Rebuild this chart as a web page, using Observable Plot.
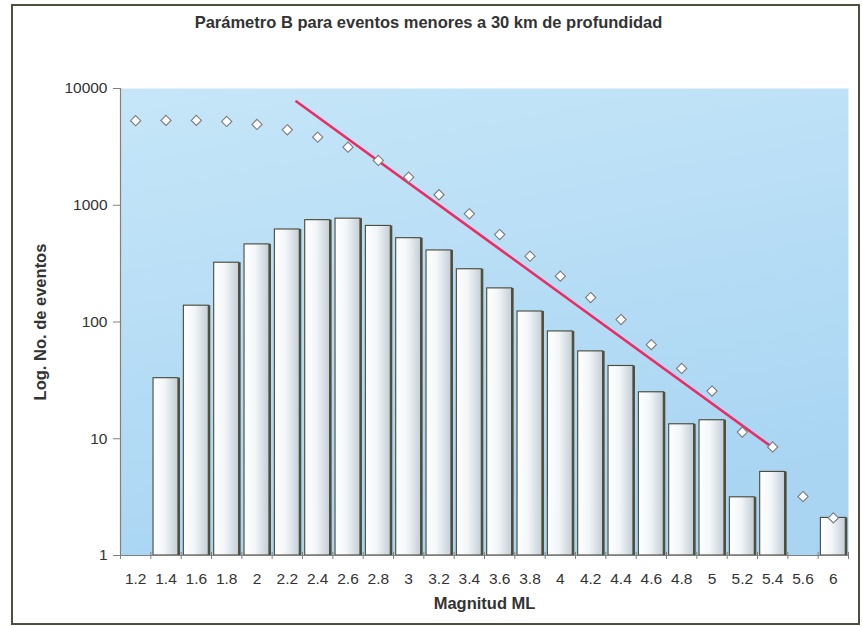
<!DOCTYPE html>
<html>
<head>
<meta charset="utf-8">
<script src="https://cdn.jsdelivr.net/npm/d3@7"></script>
<script src="https://cdn.jsdelivr.net/npm/@observablehq/plot@0.6"></script>
<style>
  html, body { margin: 0; padding: 0; background: #ffffff; }
  #wrap { position: relative; width: 862px; height: 626px; }
  #border { position: absolute; left: 11px; top: 4px; width: 845px; height: 617px;
            border: 2px solid #4f4f3d; pointer-events: none; }
  svg { display: block; }
</style>
</head>
<body>
<div id="wrap"><div id="border"></div></div>
<script>
// Magnitude classes (ML) shown on the category axis
const mags = ["1.2","1.4","1.6","1.8","2","2.2","2.4","2.6","2.8","3","3.2","3.4",
              "3.6","3.8","4","4.2","4.4","4.6","4.8","5","5.2","5.4","5.6","6"];
// Number of events per magnitude class (null = no events)
const events = [null, 33, 138, 322, 462, 620, 745, 768, 665, 522, 410, 283,
                194, 123, 83, 56, 42, 25, 13.3, 14.4, 3.15, 5.2, null, 2.1];
// Cumulative number of events with magnitude >= class
const cumulative = [5300, 5330, 5330, 5220, 4920, 4430, 3830, 3140, 2420, 1740, 1230, 845,
                    561, 366, 247, 162, 105, 64, 40, 25.6, 11.4, 8.5, 3.2, 2.1];
// Gutenberg–Richter fit segment (magnitude, count)
const fitMag = [2.26, 5.4];
const fitN = [7740, 8.4];
const yTicks = [1, 10, 100, 1000, 10000];

const rows = mags.map((m, i) => ({i, mag: m, events: events[i], cum: cumulative[i]}));
const bars = rows.filter(d => d.events != null);
// Magnitude -> position along the category axis (steps of 0.2 from 1.2)
const magToIndex = m => (m - 1.2) / 0.2;
const fit = fitMag.map((m, k) => ({x: magToIndex(m), n: fitN[k]}));
// Category boundaries for the tick marks between classes
const bounds = d3.range(mags.length + 1).map(k => k - 0.5);

const font = "'Liberation Sans', Arial, sans-serif";
const ink = "#333333";
const axisGray = "#808080";

const defs = () => {
  const g = d3.create("svg:defs");
  const bg = g.append("linearGradient").attr("id", "bgGrad")
    .attr("x1", 0).attr("y1", 0).attr("x2", 0.3).attr("y2", 1);
  bg.append("stop").attr("offset", 0).attr("stop-color", "#c6e6f8");
  bg.append("stop").attr("offset", 1).attr("stop-color", "#a9d5f3");
  const bar = g.append("linearGradient").attr("id", "barGrad")
    .attr("x1", 0).attr("y1", 0).attr("x2", 1).attr("y2", 0);
  bar.append("stop").attr("offset", 0).attr("stop-color", "#ffffff");
  bar.append("stop").attr("offset", 0.45).attr("stop-color", "#f3f6f8");
  bar.append("stop").attr("offset", 1).attr("stop-color", "#c3ced7");
  return g.node();
};

const chart = Plot.plot({
  width: 862,
  height: 626,
  marginLeft: 120,
  marginRight: 14,
  marginTop: 88,
  marginBottom: 71,
  style: {fontFamily: font, fontSize: "15px", color: ink, background: "transparent"},
  x: {domain: [-0.5, mags.length - 0.5], axis: null, label: null},
  y: {type: "log", domain: [1, 10000], axis: null, label: null},
  marks: [
    defs,
    Plot.frame({fill: "url(#bgGrad)", stroke: null}),
    // bar shadow
    Plot.rectY(bars, {x1: d => d.i - 0.5, x2: d => d.i + 0.5, y1: 1, y2: "events",
      insetLeft: 2.7, insetRight: 2.7, dx: 2, fill: "#4f4f3b"}),
    Plot.rectY(bars, {x1: d => d.i - 0.5, x2: d => d.i + 0.5, y1: 1, y2: "events",
      insetLeft: 2.7, insetRight: 2.7, fill: "url(#barGrad)", stroke: "#4a4a38", strokeWidth: 1.1}),
    // axis lines
    Plot.ruleX([-0.5], {stroke: axisGray, strokeWidth: 1.2}),
    Plot.ruleY([1], {stroke: axisGray, strokeWidth: 1.2}),
    // tick marks between categories
    Plot.axisX({ticks: bounds, tickFormat: () => "", tickSize: 7, dy: -3,
      stroke: axisGray, label: null}),
    // category labels
    Plot.axisX({ticks: rows.map(d => d.i), tickFormat: i => mags[i], tickSize: 0,
      tickPadding: 17, fontSize: 15.5, fill: ink, label: null}),
    Plot.axisY({ticks: yTicks, tickFormat: d => String(d), tickSize: 7, tickPadding: 6,
      fontSize: 15.5, stroke: axisGray, fill: ink, label: null}),
    // fit line
    Plot.line(fit, {x: "x", y: "n", stroke: "#ec2c64", strokeWidth: 2.6}),
    // cumulative counts
    Plot.dot(rows, {x: "i", y: "cum", symbol: "diamond2", r: 4.6, fill: "white",
      stroke: "#7a7a7a", strokeWidth: 1.1}),
    // titles
    Plot.text(["Parámetro B para eventos menores a 30 km de profundidad"],
      {frameAnchor: "top", dx: -56, dy: -72, fontSize: 16.5, fontWeight: "bold", fill: ink}),
    Plot.text(["Log. No. de eventos"],
      {frameAnchor: "left", textAnchor: "middle", rotate: -90, dx: -80, fontSize: 16.5,
       fontWeight: "bold", fill: ink}),
    Plot.text(["Magnitud ML"],
      {frameAnchor: "bottom", dy: 53, fontSize: 16.5, fontWeight: "bold", fill: ink})
  ]
});

document.getElementById("wrap").prepend(chart);
</script>
</body>
</html>
